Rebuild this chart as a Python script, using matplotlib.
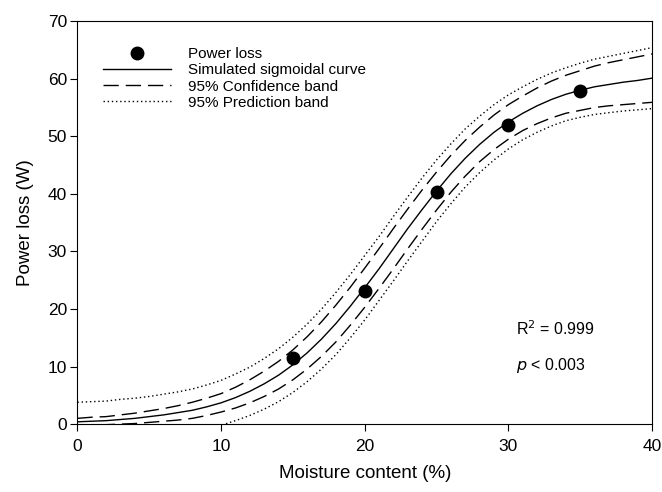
import numpy as np
import matplotlib
matplotlib.use("Agg")
import matplotlib.pyplot as plt

plt.rcParams['font.family'] = ['Liberation Sans', 'DejaVu Sans']

# measured points
moisture = [15, 20, 25, 30, 35]
power_loss = [11.4, 23.1, 40.4, 51.9, 57.8]

# curves at every 1 % moisture (0..40)
curve_x = list(range(0, 41))
fit_y = [0.4, 0.5, 0.6, 0.8, 1.0, 1.3, 1.6, 2.0, 2.4, 3.0, 3.7, 4.6, 5.7, 7.0,
         8.5, 10.3, 12.4, 14.8, 17.5, 20.5, 23.7, 27.0, 30.5, 34.0, 37.3, 40.5,
         43.5, 46.2, 48.6, 50.7, 52.5, 54.0, 55.3, 56.4, 57.3, 58.0, 58.6, 59.0,
         59.4, 59.7, 60.1]
conf_upper = [1.0, 1.2, 1.3, 1.6, 1.9, 2.3, 2.7, 3.2, 3.8, 4.5, 5.3, 6.4, 7.7, 9.2,
              10.9, 12.9, 15.2, 17.8, 20.7, 23.8, 27.1, 30.5, 34.0, 37.4, 40.7, 43.8,
              46.7, 49.3, 51.6, 53.7, 55.5, 57.0, 58.4, 59.6, 60.6, 61.4, 62.2, 62.8,
              63.3, 63.8, 64.3]
conf_lower = [-0.2, -0.2, -0.1, 0.0, 0.1, 0.3, 0.5, 0.7, 1.0, 1.5, 2.1, 2.8, 3.7, 4.8,
              6.1, 7.7, 9.6, 11.8, 14.3, 17.2, 20.3, 23.6, 27.0, 30.5, 33.9, 37.2,
              40.3, 43.1, 45.6, 47.7, 49.5, 51.0, 52.2, 53.2, 54.0, 54.5, 55.0, 55.3,
              55.5, 55.7, 55.9]
pred_upper = [3.8, 3.9, 4.0, 4.3, 4.5, 4.8, 5.2, 5.6, 6.1, 6.8, 7.6, 8.7, 9.9, 11.4,
              13.1, 15.1, 17.4, 20.0, 22.9, 26.0, 29.3, 32.6, 36.1, 39.5, 42.8, 45.9,
              48.7, 51.3, 53.5, 55.5, 57.2, 58.6, 59.9, 61.0, 61.9, 62.7, 63.4, 63.9,
              64.4, 64.9, 65.4]
pred_lower = [-3.0, -2.9, -2.8, -2.7, -2.5, -2.3, -2.0, -1.7, -1.3, -0.8, -0.2, 0.6, 1.5, 2.6,
              3.9, 5.5, 7.4, 9.6, 12.1, 15.0, 18.1, 21.5, 24.9, 28.4, 31.8, 35.2,
              38.3, 41.2, 43.7, 45.9, 47.8, 49.4, 50.7, 51.8, 52.7, 53.3, 53.8, 54.1,
              54.4, 54.6, 54.8]

fig = plt.figure(figsize=(6.62, 4.92), dpi=100)
ax = fig.add_axes([0.117, 0.138, 0.868, 0.819])

ax.plot(moisture, power_loss, 'o', color='black', ms=9, label='Power loss', zorder=5)
ax.plot(curve_x, fit_y, '-', color='black', lw=1, label='Simulated sigmoidal curve')
ax.plot(curve_x, conf_upper, color='black', lw=1, ls=(0, (11, 5)), label='95% Confidence band')
ax.plot(curve_x, conf_lower, color='black', lw=1, ls=(0, (11, 5)))
ax.plot(curve_x, pred_upper, color='black', lw=1, ls=(0, (1, 2)), label='95% Prediction band')
ax.plot(curve_x, pred_lower, color='black', lw=1, ls=(0, (1, 2)))

ax.set_xlim(0, 40)
ax.set_ylim(0, 70)
ax.set_xticks([0, 10, 20, 30, 40])
ax.set_yticks(np.arange(0, 71, 10))
ax.tick_params(direction='out', length=5, labelsize=12.5, top=False, right=False)
ax.tick_params(axis='x', pad=6)
ax.tick_params(axis='y', pad=2.5)
ax.set_xlabel('Moisture content (%)', fontsize=13.5, labelpad=8)
ax.set_ylabel('Power loss (W)', fontsize=13.5, labelpad=10)

ax.text(30.5, 16.5, r'R$^2$ = 0.999', fontsize=11.5, va='center')
ax.text(30.5, 10.25, r'$\it{p}$ < 0.003', fontsize=11.5, va='center')

ax.legend(loc='upper left', bbox_to_anchor=(0.032, 0.955), frameon=False, borderpad=0,
          handlelength=4.4, handletextpad=1.1, labelspacing=0.15, fontsize=11)

plt.savefig('out.png', dpi=100)
plt.close()
